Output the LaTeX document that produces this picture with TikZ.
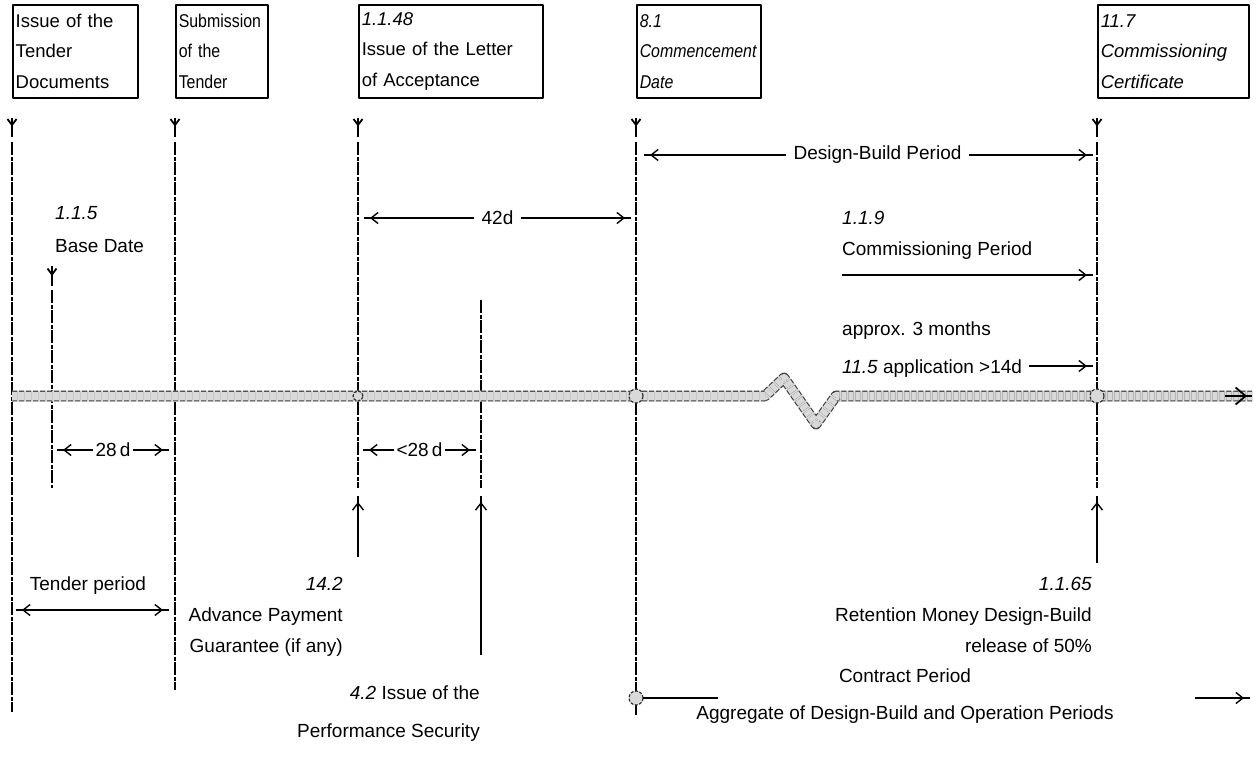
\documentclass[tikz,border=0pt]{standalone}
\usepackage{fontspec}
\setmainfont{Liberation Sans}
\newfontfamily\narrowfont{Liberation Sans}[FakeStretch=0.86]
\usetikzlibrary{arrows.meta,decorations.markings}
\begin{document}
\begin{tikzpicture}[x=1pt,y=-1pt,line join=round,
  >={Straight Barb[length=7pt,width=11pt]},
  lab/.style={font=\fontsize{19}{30}\selectfont, inner sep=0pt},
  lbl/.style={font=\fontsize{19}{30}\selectfont, fill=white, inner xsep=8pt, inner ysep=3pt},
  box/.style={draw, line width=1.5pt, anchor=north west, align=left, inner sep=3pt, minimum height=93pt, font=\fontsize{18.5}{30.5}\selectfont},
  vline/.style={line width=1.9pt, dash pattern=on 13pt off 1.5pt on 4pt off 1.5pt},
  arr/.style={line width=1.4pt},
  mk/.style={line width=1.8pt, postaction={decorate,decoration={markings,mark=at position -10pt with {\arrow{Straight Barb[length=6pt,width=9pt]}}}}},
  tipE/.style={postaction={decorate,decoration={markings,mark=at position -#1 with {\arrow{>}}}}},
  tipE/.default=6pt,
  tipS/.style={postaction={decorate,decoration={markings,mark=at position #1 with {\arrowreversed{>}}}}},
  tipS/.default=6pt,
  bigtip/.style={postaction={decorate,decoration={markings,mark=at position -5pt with {\arrow{Straight Barb[length=10pt,width=17pt]}}}}},
  band/.style={line width=11pt, draw=gray!30},
  bandedge/.style={line width=1.1pt, draw=black!75, double=gray!30, double distance=8.5pt, dash pattern=on 5pt off 2pt},
  ring/.style={draw=black!80, line width=1.2pt, dash pattern=on 3pt off 1.5pt, fill=gray!30}
]
\useasboundingbox (0,0) rectangle (1258,769);
\fill[white] (0,0) rectangle (1258,769);

% ---- event boxes
\node[box, text width=119pt] (B1) at (12,4) {Issue of the\\Tender\\Documents};
\node[box, text width=86pt, font=\fontsize{18.5}{30.5}\narrowfont] (B2) at (175,4) {Submission\\of the\\Tender};
\node[box, text width=178pt] (B3) at (358,4) {\textit{1.1.48}\\Issue of the Letter\\of Acceptance};
\node[box, text width=118pt, font=\fontsize{18.5}{30.5}\narrowfont\itshape] (B4) at (636,4) {8.1\\Commencement\\Date};
\node[box, text width=145pt, font=\fontsize{18.5}{30.5}\selectfont\itshape] (B5) at (1097,4) {11.7\\Commissioning\\Certificate};

\foreach \b in {B1,B2,B3,B4,B5}
  \draw[mk] ([yshift=-19pt]\b.south west) -- ([yshift=-38pt]\b.south west);

% ---- coordinates of event lines
\coordinate (L1t) at (12,142);   \coordinate (L1b) at (12,712);
\coordinate (L2t) at (175,142);  \coordinate (L2b) at (175,690);
\coordinate (L3t) at (358,142);  \coordinate (L3b) at (358,488);
\coordinate (L4t) at (636,142);  \coordinate (L4b) at (636,715);
\coordinate (L5t) at (1097,142); \coordinate (L5b) at (1097,488);
\coordinate (BDt) at (52,290);   \coordinate (BDb) at (52,488);
\coordinate (PSt) at (481,300);  \coordinate (PSb) at (481,488);
\coordinate (BDm1) at (52,266);  \coordinate (BDm2) at (52,286);

\draw[vline] (L1t) -- (L1b);
\draw[vline] (L2t) -- (L2b);
\draw[vline] (L3t) -- (L3b);
\draw[vline] (L4t) -- (L4b);
\draw[vline] (L5t) -- (L5b);
\draw[vline] (BDt) -- (BDb);
\draw[vline] (PSt) -- (PSb);
\draw[mk] (BDm1) -- (BDm2);

% ---- time line
\coordinate (T0) at (12,396);
\coordinate (Z1) at (765,396);
\coordinate (Z2) at (784,378);
\coordinate (Z3) at (816,424);
\coordinate (Z4) at (836,396);
\coordinate (T1) at (1252,396);
\draw[band] (T0) -- (Z1) -- (Z2) -- (Z3) -- (Z4) -- (T1);
\draw[bandedge] (T0) -- (Z1) -- (Z2) -- (Z3) -- (Z4) -- (T1);
\coordinate (T1a) at (1225,396);
\draw[line width=1.8pt, bigtip] (T1a) -- (T1);
\draw[ring] (358,396) circle[radius=5pt];
\draw[ring] (636,396) circle[radius=7pt];
\draw[ring] (1097,396) circle[radius=7pt];

% ---- upper labels
\node[lab, anchor=base west] (n115) at (55,219) {\textit{1.1.5}};
\node[lab, anchor=base west] (bd) at (55,252) {Base Date};
\node[lab, anchor=base west] (n119) at (842,224) {\textit{1.1.9}};
\node[lab, anchor=base west] (cpt) at (842,255) {Commissioning Period};
\node[lab, anchor=base west] (ap3) at (842,335) {approx. 3 months};
\node[lab, anchor=base west] (app) at (842,373) {\textit{11.5} application >14d};

\coordinate (db1) at (644,155);  \coordinate (db2) at (1093,155);
\draw[arr, tipS, tipE] (db1) -- node[lbl, pos=0.52] (dbp) {Design-Build Period} (db2);
\coordinate (a42l) at (364,218); \coordinate (a42r) at (631,218);
\draw[arr, tipS, tipE] (a42l) -- node[lbl] (d42) {42d} (a42r);
\coordinate (cp1) at (842,275);  \coordinate (cp2) at (1093,275);
\draw[arr, tipE] (cp1) -- (cp2);
\coordinate (ap2) at (1093,366);
\draw[arr, tipE] ([xshift=7pt]app.east |- ap2) -- (ap2);

% ---- lower dimension arrows
\coordinate (b1) at (57,450);  \coordinate (b2) at (169,450);
\draw[arr, tipS, tipE] (b1) -- node[lbl, inner xsep=3pt] (d28) {28\,d} (b2);
\coordinate (c1) at (363,450); \coordinate (c2) at (476,450);
\draw[arr, tipS, tipE] (c1) -- node[lbl, inner xsep=3pt] (dl28) {<28\,d} (c2);

\node[lab, anchor=base] (tpt) at (88,590) {Tender period};
\coordinate (tp1) at (16,610); \coordinate (tp2) at (169,610);
\draw[arr, tipS, tipE] (tp1) -- (tp2);

% ---- upward arrows
\coordinate (u3a) at (358,557);  \coordinate (u3b) at (358,496);
\coordinate (u5a) at (1097,563); \coordinate (u5b) at (1097,496);
\coordinate (upa) at (481,655);  \coordinate (upb) at (481,496);
\draw[arr, tipE] (u3a) -- (u3b);
\draw[arr, tipE] (u5a) -- (u5b);
\draw[arr, tipE] (upa) -- (upb);

% ---- lower labels
\node[lab, anchor=base east] (n142) at (343,590) {\textit{14.2}};
\node[lab, anchor=base east] (apg) at (343,621) {Advance Payment};
\node[lab, anchor=base east] (gua) at (343,652) {Guarantee (if any)};
\node[lab, anchor=base east] (n1165) at (1092,590) {\textit{1.1.65}};
\node[lab, anchor=base east] (rmd) at (1092,621) {Retention Money Design-Build};
\node[lab, anchor=base east] (rel) at (1092,652) {release of 50\%};
\node[lab, anchor=base east] (n42) at (480,699) {\textit{4.2} Issue of the};
\node[lab, anchor=base east] (pfs) at (480,737) {Performance Security};

% ---- contract period
\draw[ring] (636,698) circle[radius=7pt];
\coordinate (k0) at (643,698); \coordinate (k1) at (718,698);
\coordinate (k2) at (1195,698); \coordinate (k3) at (1250,698);
\draw[arr] (k0) -- (k1);
\draw[arr, tipE] (k2) -- (k3);
\node[lab, anchor=base] (ctp) at (905,682) {Contract Period};
\node[lab, anchor=base] (agg) at (905,719) {Aggregate of Design-Build and Operation Periods};
\end{tikzpicture}
\end{document}
